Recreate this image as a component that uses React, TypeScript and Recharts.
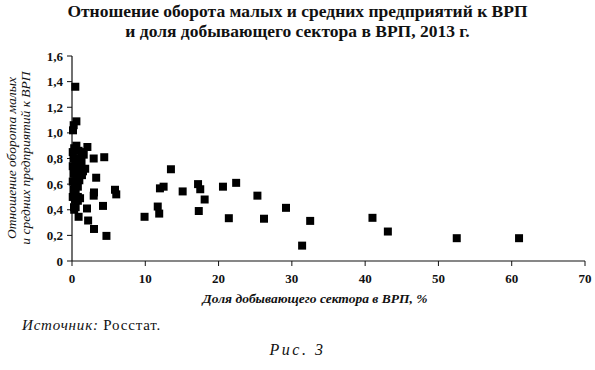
import React from "react"
import { ScatterChart, Scatter, XAxis, YAxis, ZAxis } from "recharts"

// доля добывающего сектора в ВРП, %
const miningShare = [
  0.45, 0.6, 0.23, 0.14, 2.1, 2.96, 4.4, 3.3, 3.0, 2.96, 5.87, 6.04, 4.23, 2.05, 0.9, 2.2, 3.0, 4.7,
  1.8, 1.36, 1.1, 9.9, 11.7, 11.9, 12.0, 12.5, 13.5, 15.1, 17.2, 17.5, 18.1, 17.3, 20.6, 22.4, 21.4,
  25.3, 26.2, 29.2, 32.5, 31.4, 41.0, 43.1, 52.5, 61.0,
  0.1, 0.3, 0.6, 0.9, 1.3, 1.6, 0.2, 0.5, 0.9, 1.3, 0.1, 0.4, 0.8, 1.2, 1.5, 0.2, 0.6, 1.0, 0.1, 0.4,
  0.7, 0.2, 0.5, 0.8, 0.1, 0.4, 0.8, 0.27, 0.5, 0.3, 1.0, 0.8,
]

// отношение оборота МСП к ВРП
const smeRatio = [
  1.36, 1.09, 1.06, 1.02, 0.89, 0.8, 0.81, 0.65, 0.535, 0.51, 0.556, 0.52, 0.43, 0.41, 0.345, 0.316,
  0.25, 0.196, 0.72, 0.67, 0.49, 0.345, 0.425, 0.37, 0.567, 0.58, 0.716, 0.543, 0.6, 0.56, 0.48, 0.39,
  0.58, 0.61, 0.334, 0.51, 0.33, 0.415, 0.313, 0.12, 0.337, 0.23, 0.178, 0.178,
  0.85, 0.88, 0.9, 0.86, 0.85, 0.83, 0.8, 0.78, 0.8, 0.78, 0.74, 0.72, 0.74, 0.72, 0.7, 0.68, 0.66,
  0.68, 0.62, 0.6, 0.63, 0.56, 0.55, 0.58, 0.5, 0.48, 0.5, 0.42, 0.42, 0.4, 0.63, 0.47,
]

const xTicks = [0, 10, 20, 30, 40, 50, 60, 70]
const yTicks = [0, 0.2, 0.4, 0.6, 0.8, 1.0, 1.2, 1.4, 1.6]

const points = miningShare.map((x, i) => ({ x, y: smeRatio[i] }))

const serif = "'Liberation Serif', 'Times New Roman', serif"
const tickStyle = { fontFamily: serif, fontSize: 13, fontWeight: "bold", fill: "#111" }

const fmt = (v: number) => (v === 0 ? "0" : v.toFixed(1).replace(".", ","))

export default function App() {
  return (
    <div
      style={{
        position: "absolute",
        left: 0,
        top: 0,
        width: 595,
        height: 370,
        background: "#fff",
        fontFamily: serif,
        color: "#111",
      }}
    >
      <div
        style={{
          position: "absolute",
          top: 1,
          left: 0,
          width: 595,
          textAlign: "center",
          fontWeight: "bold",
          fontSize: 17.5,
          lineHeight: "20px",
        }}
      >
        Отношение оборота малых и средних предприятий к ВРП
        <br />
        и доля добывающего сектора в ВРП, 2013 г.
      </div>

      <div
        style={{
          position: "absolute",
          left: 20 - 100,
          top: 158 - 15,
          width: 200,
          height: 30,
          transform: "rotate(-90deg)",
          textAlign: "center",
          fontStyle: "italic",
          fontSize: 13.5,
          lineHeight: "14px",
          whiteSpace: "nowrap",
        }}
      >
        Отношение оборота малых
        <br />
        и средних предприятий к ВРП
      </div>

      <ScatterChart
        width={595}
        height={370}
        margin={{ top: 56, right: 10, bottom: 79, left: 32 }}
        style={{ position: "absolute", left: 0, top: 0 }}
      >
        <XAxis
          type="number"
          dataKey="x"
          domain={[0, 70]}
          ticks={xTicks}
          interval={0}
          height={30}
          tickSize={5}
          tickMargin={8}
          tick={tickStyle}
          axisLine={{ stroke: "#111", strokeWidth: 1.2 }}
          tickLine={{ stroke: "#111" }}
        />
        <YAxis
          type="number"
          dataKey="y"
          domain={[0, 1.6]}
          ticks={yTicks}
          interval={0}
          width={40}
          tickSize={5}
          tickMargin={4}
          tick={tickStyle}
          tickFormatter={fmt}
          axisLine={{ stroke: "#111", strokeWidth: 1.2 }}
          tickLine={{ stroke: "#111" }}
        />
        <ZAxis range={[56, 56]} />
        <Scatter data={points} shape="square" fill="#000" isAnimationActive={false} />
      </ScatterChart>

      <div
        style={{
          position: "absolute",
          top: 291,
          left: 0,
          width: 630,
          textAlign: "center",
          fontStyle: "italic",
          fontWeight: "bold",
          fontSize: 13.5,
        }}
      >
        Доля добывающего сектора в ВРП, %
      </div>

      <div style={{ position: "absolute", top: 317, left: 22, fontSize: 15, letterSpacing: 0.8 }}>
        <i>Источник:</i> Росстат.
      </div>

      <div
        style={{
          position: "absolute",
          top: 341,
          left: 0,
          width: 595,
          textAlign: "center",
          fontStyle: "italic",
          fontSize: 16,
          letterSpacing: 2.5,
        }}
      >
        Рис. 3
      </div>
    </div>
  )
}
